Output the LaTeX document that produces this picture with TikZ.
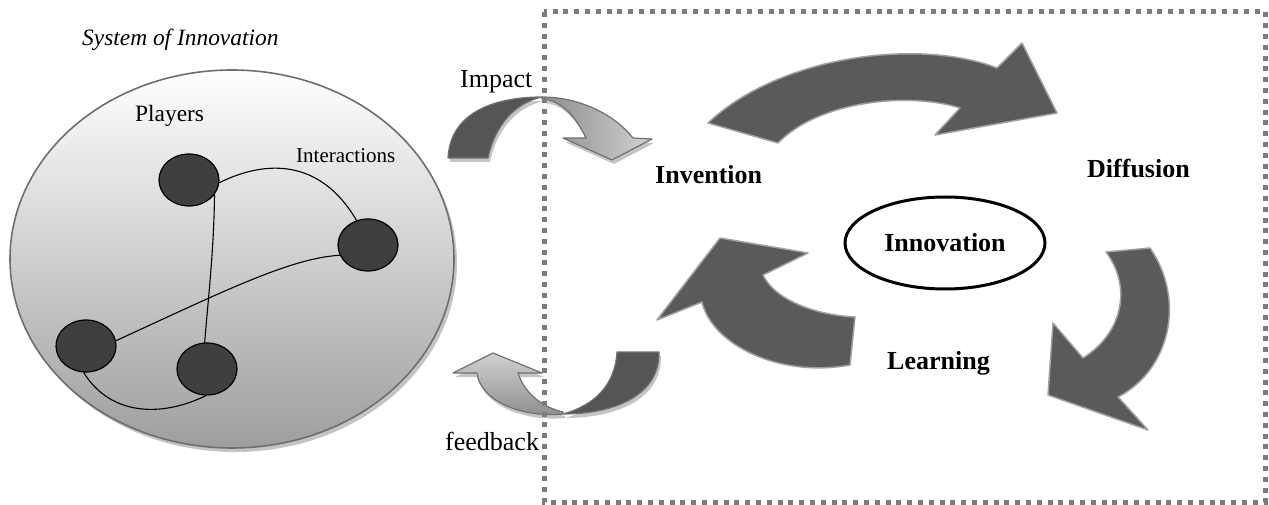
\documentclass[tikz,border=0pt]{standalone}
\usepackage{fontspec}
\setmainfont{Liberation Serif}
\usetikzlibrary{shapes.geometric,shadows}
\definecolor{darkfill}{HTML}{5A5A5A}
\definecolor{darkedge}{HTML}{A0A0A0}
\definecolor{bandedge}{HTML}{707070}
\definecolor{framecol}{HTML}{7C7C7C}
\definecolor{playerfill}{HTML}{3F3F3F}
\definecolor{sysedge}{HTML}{6E6E6E}
\definecolor{shadowcol}{HTML}{C4C4C4}
\tikzset{
  bigarrow/.style={fill=darkfill, draw=darkedge, line width=1.5pt, line join=round},
  backband/.style={fill=darkfill!95!black, draw=bandedge, line width=1.2pt, line join=round,
    drop shadow={shadow xshift=2pt, shadow yshift=-4pt, fill=shadowcol, opacity=1}},
  frontband/.style={draw=bandedge, line width=1.2pt, line join=round,
    drop shadow={shadow xshift=2pt, shadow yshift=-4pt, fill=shadowcol, opacity=1}},
  player/.style={ellipse, draw=black, line width=1.2pt, fill=playerfill, minimum width=60pt, minimum height=52pt, inner sep=0pt},
  link/.style={draw=black, line width=1.1pt},
  maintext/.style={font=\fontsize{26}{30}\selectfont, inner sep=0pt, anchor=base west},
  boldtext/.style={font=\fontsize{26}{30}\selectfont\bfseries, inner sep=0pt, anchor=base west},
}
\begin{document}
\begin{tikzpicture}[x=1pt,y=-1pt]
\useasboundingbox (0,0) rectangle (1269,505);

% system of innovation ellipse
\node[ellipse, draw=sysedge, line width=1.6pt, top color=white, bottom color=black!38,
      minimum width=444pt, minimum height=378pt,
      drop shadow={shadow xshift=3pt, shadow yshift=-4pt, fill=shadowcol, opacity=1}] (sys) at (232,259) {};

\node[player] (p1) at (189,180) {};
\node[player] (p2) at (368,245) {};
\node[player] (p3) at (86,346) {};
\node[player] (p4) at (207,369) {};

\draw[link] (p1.-5) .. controls (265,160) and (320,158) .. (p2.115);
\draw[link] (p1.-30) .. controls (214,250) and (208,300) .. (p4.95);
\draw[link] (p3.10) .. controls (220,293) and (290,258) .. (p2.200);
\draw[link] (p3.265) .. controls (110,415) and (160,418) .. (p4.268);

\node[font=\fontsize{23.4}{28}\selectfont\itshape, inner sep=0pt, anchor=base west] (title) at (82,46) {System of Innovation};
\node[font=\fontsize{23.4}{28}\selectfont, inner sep=0pt, anchor=base west] (players) at (135,122) {Players};
\node[font=\fontsize{21}{25}\selectfont, inner sep=0pt, anchor=base west] (inter) at (296,163) {Interactions};

% impact arrow
\path[backband] (448,158) .. controls (450,115) and (490,97) .. (542,97)
   .. controls (515,103) and (495,125) .. (488,158) -- cycle;
\path[frontband, left color=black!45, right color=black!18]
   (542,97) .. controls (580,97) and (615,115) .. (633,138)
   -- (652,139) -- (612,160) -- (563,138) -- (586,138)
   .. controls (575,115) and (560,100) .. (542,99) -- cycle;

% feedback arrow
\path[backband] (617,352) -- (659,352) .. controls (660,395) and (615,414) .. (563,414)
   .. controls (595,405) and (615,385) .. (617,352) -- cycle;
\path[frontband, top color=black!18, bottom color=black!45]
   (563,414) .. controls (520,418) and (480,400) .. (477,373)
   -- (453,373) -- (493,353) -- (542,373) -- (518,373)
   .. controls (525,395) and (545,408) .. (563,412) -- cycle;

% cycle arrows
\path[bigarrow] (708,123) .. controls (780,55) and (920,38) .. (997,68)
   -- (1022,43) -- (1057,113) -- (935,135) -- (960,108)
   .. controls (910,92) and (820,100) .. (778,143) -- cycle;
\path[bigarrow] (1150,248) .. controls (1186,300) and (1170,370) .. (1118,397)
   -- (1148,430) -- (1048,395) -- (1053,323) -- (1083,358)
   .. controls (1120,335) and (1134,290) .. (1106,252) -- cycle;
\path[bigarrow] (850,365) .. controls (780,378) and (712,345) .. (702,302)
   -- (657,320) -- (720,238) -- (808,253) -- (763,275)
   .. controls (775,300) and (815,315) .. (855,317) -- cycle;

% frame
\draw[framecol, line width=5pt, dash pattern=on 5pt off 5.8pt] (544,12) rectangle (1265,502);

\node[maintext] (impact) at (460,88) {Impact};
\node[maintext] (feedback) at (445,450) {feedback};
\node[boldtext] (invention) at (655,184) {Invention};
\node[boldtext] (diffusion) at (1087,178) {Diffusion};
\node[boldtext] (learning) at (887,369) {Learning};
\node[ellipse, draw=black, line width=3pt, minimum width=200pt, minimum height=92pt,
      font=\fontsize{26}{30}\selectfont\bfseries] (innov) at (945,243) {Innovation};
\end{tikzpicture}
\end{document}
